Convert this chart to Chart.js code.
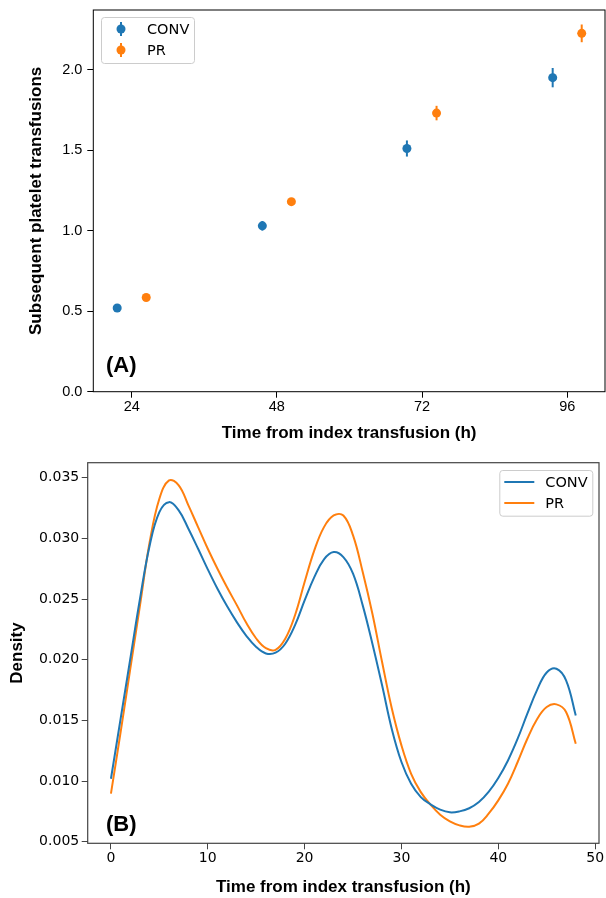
<!DOCTYPE html>
<html><head><meta charset="utf-8">
<script src="https://cdn.jsdelivr.net/npm/chart.js@4.4.0/dist/chart.umd.min.js"></script>
<style>
html,body{margin:0;padding:0;background:#fff;}
#wrap{position:relative;width:606px;height:898px;overflow:hidden;}
.box{position:absolute;left:0;width:606px;}
</style></head><body>
<div id="wrap">
<div class="box" style="top:0;height:450px"><canvas id="c1"></canvas></div>
<div class="box" style="top:450px;height:448px"><canvas id="c2"></canvas></div>
</div>
<script>
// ---- Panel A data ----
const groupNames = ['CONV', 'PR'];
const convTime = [21.6, 45.6, 69.5, 93.6];
const convMean = [0.52, 1.03, 1.51, 1.95];
const convErr  = [0.015, 0.03, 0.05, 0.06];
const prTime   = [26.4, 50.4, 74.4, 98.4];
const prMean   = [0.585, 1.18, 1.73, 2.225];
const prErr    = [0.012, 0.02, 0.045, 0.055];
const topXTicks = [24, 48, 72, 96];
const topYTicks = [0, 0.5, 1.0, 1.5, 2.0];

// ---- Panel B data ----
const kdeHours = [0,1,2,3,4,5,6,7,8,9,10,11,12,13,14,15,16,17,18,19,20,21,22,23,24,25,26,27,28,29,30,31,32,33,34,35,36,37,38,39,40,41,42,43,44,45,46,47,48];
const convDensity = [0.01019,0.01514,0.02008,0.02503,0.02942,0.03217,0.03299,0.03231,0.03080,0.02915,0.02745,0.02585,0.02440,0.02310,0.02195,0.02105,0.02052,0.02058,0.02132,0.02283,0.02489,0.02681,0.02827,0.02887,0.02846,0.02709,0.02448,0.02132,0.01789,0.01430,0.01157,0.00978,0.00868,0.00808,0.00764,0.00742,0.00750,0.00776,0.00827,0.00910,0.01025,0.01170,0.01349,0.01555,0.01750,0.01895,0.01926,0.01830,0.01541];
const prDensity = [0.00896,0.01404,0.01926,0.02448,0.02970,0.03327,0.03478,0.03437,0.03272,0.03093,0.02915,0.02750,0.02595,0.02450,0.02300,0.02175,0.02095,0.02082,0.02173,0.02365,0.02640,0.02901,0.03093,0.03189,0.03189,0.03025,0.02723,0.02379,0.01981,0.01600,0.01294,0.01060,0.00909,0.00805,0.00723,0.00668,0.00635,0.00624,0.00649,0.00731,0.00841,0.00978,0.01157,0.01349,0.01510,0.01610,0.01632,0.01569,0.01308];
const bottomXTicks = [0, 10, 20, 30, 40, 50];
const bottomYTicks = [0.005, 0.010, 0.015, 0.020, 0.025, 0.030, 0.035];

const BLUE = '#1f77b4', ORANGE = '#ff7f0e';
const TITLE_FONT = {family: "'Liberation Sans', Arial, sans-serif", weight: 'bold', size: 17};
const LEG_FONT = "14.5px 'DejaVu Sans', sans-serif";

function roundRect(ctx, x, y, w, h, r) {
  ctx.beginPath();
  ctx.moveTo(x + r, y);
  ctx.arcTo(x + w, y, x + w, y + h, r);
  ctx.arcTo(x + w, y + h, x, y + h, r);
  ctx.arcTo(x, y + h, x, y, r);
  ctx.arcTo(x, y, x + w, y, r);
  ctx.closePath();
}

const framePlugin = {
  id: 'frame',
  afterDatasetsDraw(chart, args, opts) {
    const a = chart.chartArea, ctx = chart.ctx;
    ctx.save();
    ctx.strokeStyle = opts.color; ctx.lineWidth = opts.width;
    ctx.strokeRect(a.left, a.top, a.right - a.left, a.bottom - a.top);
    ctx.restore();
  }
};

const errorBarPlugin = {
  id: 'errbars',
  beforeDatasetsDraw(chart, args, opts) {
    if (!opts.errors) return;
    const ctx = chart.ctx, xs = chart.scales.x, ys = chart.scales.y;
    ctx.save();
    chart.data.datasets.forEach((ds, i) => {
      const errs = opts.errors[i];
      ctx.strokeStyle = ds.backgroundColor; ctx.lineWidth = 2;
      ds.data.forEach((p, j) => {
        const px = xs.getPixelForValue(p.x);
        ctx.beginPath();
        ctx.moveTo(px, ys.getPixelForValue(p.y - errs[j]));
        ctx.lineTo(px, ys.getPixelForValue(p.y + errs[j]));
        ctx.stroke();
      });
    });
    ctx.restore();
  }
};

const legendPlugin = {
  id: 'mylegend',
  afterDraw(chart, args, o) {
    if (!o.kind) return;
    const a = chart.chartArea, ctx = chart.ctx;
    const x = o.anchor === 'left' ? a.left + o.dx : a.right - o.dx - o.w;
    const y = a.top + o.dy;
    ctx.save();
    roundRect(ctx, x + 0.5, y + 0.5, o.w, o.h, 3);
    ctx.fillStyle = 'rgba(255,255,255,0.8)'; ctx.fill();
    ctx.strokeStyle = '#cccccc'; ctx.lineWidth = 1; ctx.stroke();
    ctx.font = LEG_FONT; ctx.textBaseline = 'middle'; ctx.fillStyle = '#000';
    chart.data.datasets.forEach((ds, i) => {
      const ry = y + 12 + i * 21;
      const col = ds.borderColor || ds.backgroundColor;
      if (o.kind === 'marker') {
        const mx = x + 20;
        ctx.strokeStyle = ds.backgroundColor; ctx.lineWidth = 2;
        ctx.beginPath(); ctx.moveTo(mx, ry - 7); ctx.lineTo(mx, ry + 7); ctx.stroke();
        ctx.fillStyle = ds.backgroundColor;
        ctx.beginPath(); ctx.arc(mx, ry, 4.5, 0, Math.PI * 2); ctx.fill();
      } else {
        ctx.strokeStyle = col; ctx.lineWidth = 2;
        ctx.beginPath(); ctx.moveTo(x + 5, ry); ctx.lineTo(x + 35, ry); ctx.stroke();
      }
      ctx.fillStyle = '#000';
      ctx.fillText(ds.label, x + o.tx, ry + 1);
    });
    ctx.restore();
  }
};

const panelLabelPlugin = {
  id: 'panelLabel',
  afterDraw(chart, args, o) {
    if (!o.text) return;
    const a = chart.chartArea, ctx = chart.ctx;
    ctx.save();
    ctx.font = "bold 22px 'Liberation Sans', Arial, sans-serif";
    ctx.fillStyle = '#000'; ctx.textBaseline = 'middle'; ctx.textAlign = 'left';
    ctx.fillText(o.text, a.left + o.dx, a.bottom - o.dy);
    ctx.restore();
  }
};

Chart.register(framePlugin, errorBarPlugin, legendPlugin, panelLabelPlugin);

function fitX(h) { return s => { s.height = h; s.paddingLeft = 0; s.paddingRight = 0; }; }
function fitY(w) { return s => { s.width = w; s.paddingTop = 0; s.paddingBottom = 0; }; }

// ---- Chart A ----
new Chart(document.getElementById('c1'), {
  type: 'scatter',
  data: {
    datasets: [
      {label: groupNames[0], data: convTime.map((t, i) => ({x: t, y: convMean[i]})),
       backgroundColor: BLUE, borderColor: BLUE, pointRadius: 4.5, borderWidth: 0, pointHoverRadius: 4.5},
      {label: groupNames[1], data: prTime.map((t, i) => ({x: t, y: prMean[i]})),
       backgroundColor: ORANGE, borderColor: ORANGE, pointRadius: 4.5, borderWidth: 0, pointHoverRadius: 4.5}
    ]
  },
  options: {
    responsive: true, maintainAspectRatio: false, animation: false, devicePixelRatio: 1,
    layout: {autoPadding: false, padding: {top: 10, right: 1, left: 0, bottom: 0}},
    plugins: {
      legend: {display: false}, tooltip: {enabled: false},
      frame: {color: '#000', width: 1},
      errbars: {errors: [convErr, prErr]},
      mylegend: {kind: 'marker', anchor: 'left', dx: 7.7, dy: 7, w: 93, h: 46, tx: 46},
      panelLabel: {text: '(A)', dx: 12.7, dy: 25.7}
    },
    scales: {
      x: {
        type: 'linear', min: 17.65, max: 102.25,
        afterBuildTicks: s => { s.ticks = topXTicks.map(v => ({value: v})); },
        afterFit: fitX(58.3),
        ticks: {color: '#000', padding: 1, maxRotation: 0, autoSkip: false,
                font: {family: "'Liberation Sans', Arial, sans-serif", size: 14.5},
                callback: v => String(v)},
        grid: {drawOnChartArea: false, tickLength: 6, color: '#000', lineWidth: 1},
        border: {display: false},
        title: {display: true, text: 'Time from index transfusion (h)', color: '#000', font: TITLE_FONT, padding: {top: 0, bottom: 6.8}}
      },
      y: {
        type: 'linear', min: 0, max: 2.37,
        afterBuildTicks: s => { s.ticks = topYTicks.map(v => ({value: v})); },
        afterFit: fitY(93.3),
        ticks: {color: '#000', padding: 5,
                font: {family: "'Liberation Sans', Arial, sans-serif", size: 14.5},
                callback: v => Number(v).toFixed(1)},
        grid: {drawOnChartArea: false, tickLength: 6, color: '#000', lineWidth: 1},
        border: {display: false},
        title: {display: true, text: 'Subsequent platelet transfusions', color: '#000', font: TITLE_FONT, padding: {top: 26.3, bottom: 0}}
      }
    }
  }
});

// ---- Chart B ----
new Chart(document.getElementById('c2'), {
  type: 'scatter',
  data: {
    datasets: [
      {label: groupNames[0], data: kdeHours.map((h, i) => ({x: h, y: convDensity[i]})),
       showLine: true, borderColor: BLUE, backgroundColor: BLUE, borderWidth: 2, pointRadius: 0,
       tension: 0.4},
      {label: groupNames[1], data: kdeHours.map((h, i) => ({x: h, y: prDensity[i]})),
       showLine: true, borderColor: ORANGE, backgroundColor: ORANGE, borderWidth: 2, pointRadius: 0,
       tension: 0.4}
    ]
  },
  options: {
    responsive: true, maintainAspectRatio: false, animation: false, devicePixelRatio: 1,
    layout: {autoPadding: false, padding: {top: 12.7, right: 7, left: 0, bottom: 0}},
    plugins: {
      legend: {display: false}, tooltip: {enabled: false},
      frame: {color: '#444', width: 1.2},
      errbars: {errors: null},
      mylegend: {kind: 'line', anchor: 'right', dx: 6.7, dy: 7.3, w: 93, h: 45.7, tx: 46},
      panelLabel: {text: '(B)', dx: 18.3, dy: 18.3}
    },
    scales: {
      x: {
        type: 'linear', min: -2.4, max: 50.4,
        afterBuildTicks: s => { s.ticks = bottomXTicks.map(v => ({value: v})); },
        afterFit: fitX(54.7),
        ticks: {color: '#000', padding: 1, maxRotation: 0, autoSkip: false,
                font: {family: "'DejaVu Sans', sans-serif", size: 14},
                callback: v => String(v)},
        grid: {drawOnChartArea: false, tickLength: 6, color: '#444', lineWidth: 1},
        border: {display: false},
        title: {display: true, text: 'Time from index transfusion (h)', color: '#000', font: TITLE_FONT, padding: {top: 0, bottom: 0}}
      },
      y: {
        type: 'linear', min: 0.00487, max: 0.03624,
        afterBuildTicks: s => { s.ticks = bottomYTicks.map(v => ({value: v})); },
        afterFit: fitY(87.7),
        ticks: {color: '#000', padding: 2.5,
                font: {family: "'DejaVu Sans', sans-serif", size: 14},
                callback: v => Number(v).toFixed(3)},
        grid: {drawOnChartArea: false, tickLength: 6, color: '#444', lineWidth: 1},
        border: {display: false},
        title: {display: true, text: 'Density', color: '#000', font: TITLE_FONT, padding: {top: 6.8, bottom: 0}}
      }
    }
  }
});
</script>
</body></html>
